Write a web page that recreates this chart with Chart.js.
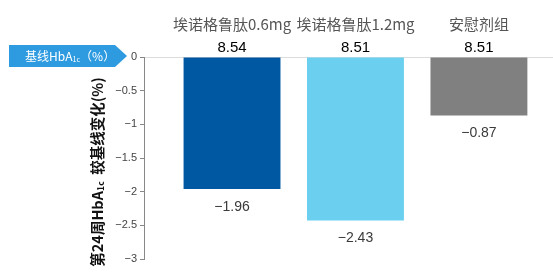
<!DOCTYPE html>
<html>
<head>
<meta charset="utf-8">
<script src="https://cdn.jsdelivr.net/npm/chart.js@4"></script>
<style>
  html, body { margin: 0; padding: 0; background: #fff; }
  #wrap { width: 553px; height: 278px; }
</style>
</head>
<body>
<div id="wrap"><canvas id="hba1c-chart"></canvas></div>
<script>
// Groups, baseline HbA1c and change at week 24
const groups = ["埃诺格鲁肽0.6mg", "埃诺格鲁肽1.2mg", "安慰剂组"];
const baseline = [8.54, 8.51, 8.51];
const change = [-1.96, -2.43, -0.87];
const barColors = ["#0058a3", "#6bcff0", "#808080"];

const cjk = '"Noto Sans CJK SC", "Liberation Sans", sans-serif';

// draw text made of pieces, some of them subscript
function drawPieces(ctx, pieces, x, y, size, weight) {
  let cx = x;
  pieces.forEach((p) => {
    const s = p.sub ? size * 0.6 : size;
    ctx.font = `${weight} ${s}px ${cjk}`;
    ctx.fillText(p.t, cx, p.sub ? y + size * 0.25 : y);
    cx += ctx.measureText(p.t).width;
  });
}
function piecesWidth(ctx, pieces, size, weight) {
  let w = 0;
  pieces.forEach((p) => {
    ctx.font = `${weight} ${p.sub ? size * 0.6 : size}px ${cjk}`;
    w += ctx.measureText(p.t).width;
  });
  return w;
}

const extras = {
  id: "extras",
  afterDatasetsDraw(chart) {
    const ctx = chart.ctx;
    const xs = chart.scales.x;
    const meta = chart.getDatasetMeta(0);
    ctx.save();

    // baseline values above the bars
    ctx.fillStyle = "#000";
    ctx.font = '500 15px "Liberation Sans", sans-serif';
    ctx.textAlign = "center";
    ctx.textBaseline = "middle";
    baseline.forEach((v, i) => {
      ctx.fillText(v.toFixed(2), xs.getPixelForValue(i), 48);
    });

    // change values under the bars
    ctx.fillStyle = "#3a3a3a";
    ctx.font = '14px "Liberation Sans", sans-serif';
    meta.data.forEach((bar, i) => {
      const v = change[i];
      ctx.fillText("\u2212" + Math.abs(v).toFixed(2), bar.x, bar.y + 18);
    });

    // blue arrow label
    ctx.fillStyle = "#2e9be0";
    ctx.beginPath();
    ctx.moveTo(9, 45);
    ctx.lineTo(115, 45);
    ctx.lineTo(127, 56);
    ctx.lineTo(115, 67);
    ctx.lineTo(9, 67);
    ctx.closePath();
    ctx.fill();
    ctx.fillStyle = "#fff";
    ctx.textAlign = "left";
    drawPieces(ctx, [{ t: "基线HbA" }, { t: "1c", sub: true }, { t: "（%）" }], 25, 56, 12, "normal");

    // rotated y title
    const title = [{ t: "第24周HbA" }, { t: "1c", sub: true }, { t: "  较基线变化(%)" }];
    ctx.translate(97, 172);
    ctx.rotate(-Math.PI / 2);
    ctx.fillStyle = "#111";
    const w = piecesWidth(ctx, title, 14.5, "bold");
    drawPieces(ctx, title, -w / 2, 0, 14.5, "bold");
    ctx.restore();
  },
};

new Chart(document.getElementById("hba1c-chart"), {
  type: "bar",
  data: {
    datasets: [
      {
        data: change.map((v, i) => ({ x: i, y: v })),
        backgroundColor: barColors,
        borderWidth: 0,
        categoryPercentage: 1,
        barPercentage: 0.785,
      },
    ],
  },
  options: {
    responsive: true,
    maintainAspectRatio: false,
    animation: false,
    layout: { padding: { top: 0, right: 0, bottom: 19, left: 0 } },
    plugins: { legend: { display: false }, tooltip: { enabled: false } },
    scales: {
      x: {
        type: "linear",
        position: "top",
        offset: false,
        bounds: "ticks",
        min: -0.713,
        max: 2.6,
        afterBuildTicks: (s) => { s.ticks = groups.map((_, i) => ({ value: i })); },
        afterFit: (s) => { s.height = 57; },
        grid: { display: false, drawTicks: false },
        border: { display: true, color: "#dcdcdc", width: 1 },
        ticks: {
          padding: 24,
          color: "#555",
          font: { family: cjk, size: 15 },
          maxRotation: 0,
          autoSkip: false,
          callback: (v) => groups[v] ?? "",
        },
      },
      y: {
        min: -3,
        max: 0,
        afterFit: (s) => { s.width = 144; },
        grid: { drawOnChartArea: false, drawTicks: true, tickLength: 4, color: "#888" },
        border: { color: "#888", width: 1 },
        ticks: {
          stepSize: 0.5,
          padding: 3,
          color: "#444",
          font: { family: '"Liberation Sans", sans-serif', size: 11 },
          callback: (v) => (v === 0 ? "0" : "\u2212" + Math.abs(v)),
        },
      },
    },
  },
  plugins: [extras],
});
</script>
</body>
</html>
